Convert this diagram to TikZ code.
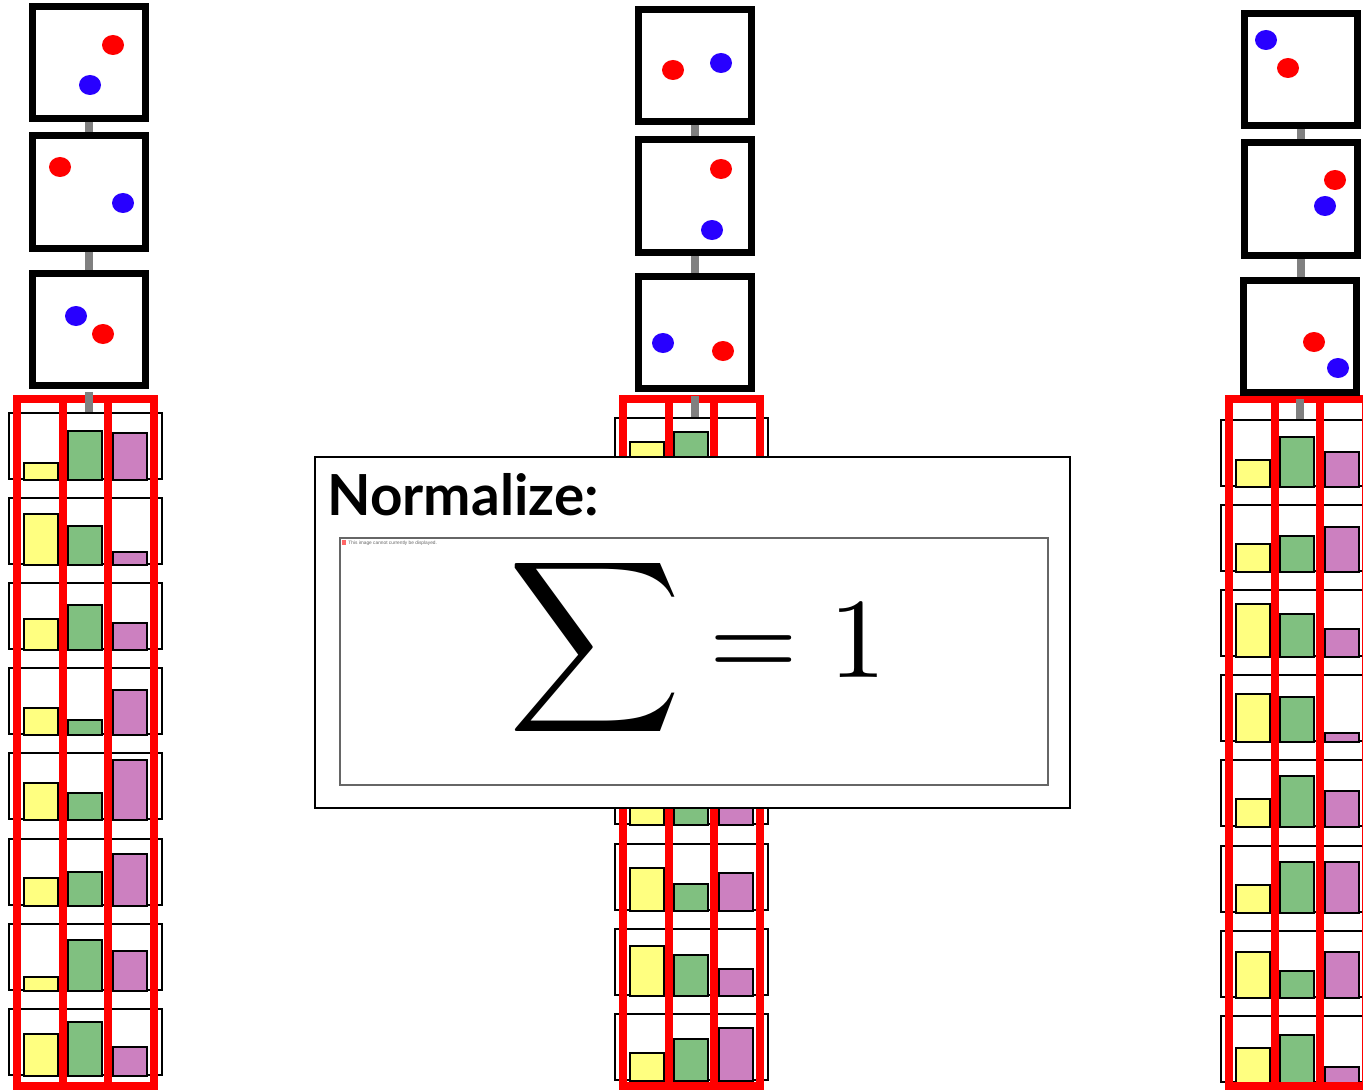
\documentclass[tikz,border=0pt]{standalone}
\usepackage{fontspec}
\usepackage{graphicx}
\usetikzlibrary{backgrounds}
\newfontfamily\titlefont{Lato}
\newfontfamily\notefont{Liberation Sans}
\definecolor{dotred}{RGB}{255,0,0}
\definecolor{dotblue}{RGB}{40,0,255}
\definecolor{baryellow}{RGB}{255,255,128}
\definecolor{bargreen}{RGB}{128,192,128}
\definecolor{barpurple}{RGB}{204,128,192}
\definecolor{linkgray}{RGB}{128,128,128}
\tikzset{
  pane/.style={draw=black, line width=3.5pt, fill=white, inner sep=0pt,
    minimum width=56.5pt, minimum height=56pt},
  cellbox/.style={draw=black, line width=1pt, inner sep=0pt,
    minimum width=76.5pt, minimum height=33pt},
  bar/.style={draw=black, line width=1pt},
  frame/.style={draw=dotred, line width=4pt},
  link/.style={draw=linkgray, line width=4pt},
}
% one column of histogram cells: name, left x, top y, heights
\newcommand{\barcolumn}[4]{%
  \foreach \hy/\hg/\hp [count=\k] in {#4}{
    \pgfmathsetmacro{\ctop}{#3+85.1*(\k-1)}
    \pgfmathsetmacro{\cbot}{\ctop+68}
    \node[cellbox] (#1cell\k) at (#2+77.5,\ctop+34) {};
    \draw[bar, fill=baryellow] (#2+16,\cbot) rectangle ++(34,-\hy);
    \draw[bar, fill=bargreen] (#2+60,\cbot) rectangle ++(34,-\hg);
    \draw[bar, fill=barpurple] (#2+105,\cbot) rectangle ++(34,-\hp);
  }
  \foreach \a/\b in {8.5/54.5, 54.5/100, 100/146}
    \draw[frame] (#2+\a,399) rectangle (#2+\b,1086);
}
\begin{document}
\begin{tikzpicture}[x=0.5pt, y=-0.5pt]
\useasboundingbox (0,0) rectangle (1363,1091);

% histograms
\barcolumn{L}{8}{412}{17/49/47, 51/39/13, 31/45/27, 27/15/45, 37/27/60, 28/34/52, 14/51/40, 42/54/29}
\barcolumn{M}{614}{417}{43/53/20, 30/40/35, 50/20/25, 25/45/40, 35/25/40, 43/27/38, 50/41/27, 28/42/53}
\barcolumn{R}{1220}{419}{27/50/35, 28/36/45, 53/43/28, 48/45/9, 28/51/36, 28/51/51, 46/27/46, 35/48/16}

% chains of boxes
\node[pane] (L1) at (89,62.5) {};
\node[pane] (L2) at (89,192) {};
\node[pane] (L3) at (89,329) {};
\node[pane] (M1) at (695,66) {};
\node[pane] (M2) at (695,196) {};
\node[pane] (M3) at (694.5,332.5) {};
\node[pane] (R1) at (1300.5,69.5) {};
\node[pane] (R2) at (1300.5,199) {};
\node[pane] (R3) at (1299.5,336) {};
\begin{pgfonlayer}{background}
\foreach \c in {L,M,R}{
  \draw[link] (\c1.center) -- (\c1.center |- \c2.center);
  \draw[link] (\c2.center) -- (\c2.center |- \c3.center);
}
\end{pgfonlayer}
\foreach \c in {L,M,R}
  \draw[link, shorten <=1.75pt] (\c3.south) -- (\c3.south |- \c cell1.north);

% particles
\foreach \px/\py/\pc in {113/45/dotred, 90/85/dotblue, 60/167/dotred, 123/203/dotblue,
    76/316/dotblue, 103/334/dotred, 673/70/dotred, 721/63/dotblue, 721/169/dotred,
    712/230/dotblue, 663/343/dotblue, 723/351/dotred, 1266/40/dotblue, 1288/68/dotred,
    1335/180/dotred, 1325/206/dotblue, 1314/342/dotred, 1338/368/dotblue}
  \fill[\pc] (\px,\py) ellipse [x radius=5.5pt, y radius=5pt];

% normalize panel
\node[draw=black, line width=1pt, fill=white, inner sep=0pt,
  minimum width=377.5pt, minimum height=175.5pt] (normbox) at (692.5,632.5) {};
\node[anchor=base west, inner sep=0pt, font=\titlefont\bfseries\fontsize{28.3}{32}\selectfont]
  (title) at (327,515) {Normalize:};
\node[draw=black!60, line width=0.6pt, inner sep=0pt,
  minimum width=354pt, minimum height=123.5pt] (imgframe) at (694,661.5) {};
\fill[dotred!60] (342,540) rectangle (346,545);
\node[anchor=west, inner sep=0pt, text=black!60, font=\notefont\fontsize{2.4}{3}\selectfont]
  (note) at (348,543) {This image cannot currently be displayed.};
\node[anchor=base west, inner sep=0pt] (sumsign) at (508.5,677) {\scalebox{6}{$\displaystyle\sum$}};
\node[anchor=base west, inner sep=0pt] (sumrhs) at (708.6,677) {\scalebox{5.7}{$=1$}};
\end{tikzpicture}
\end{document}
